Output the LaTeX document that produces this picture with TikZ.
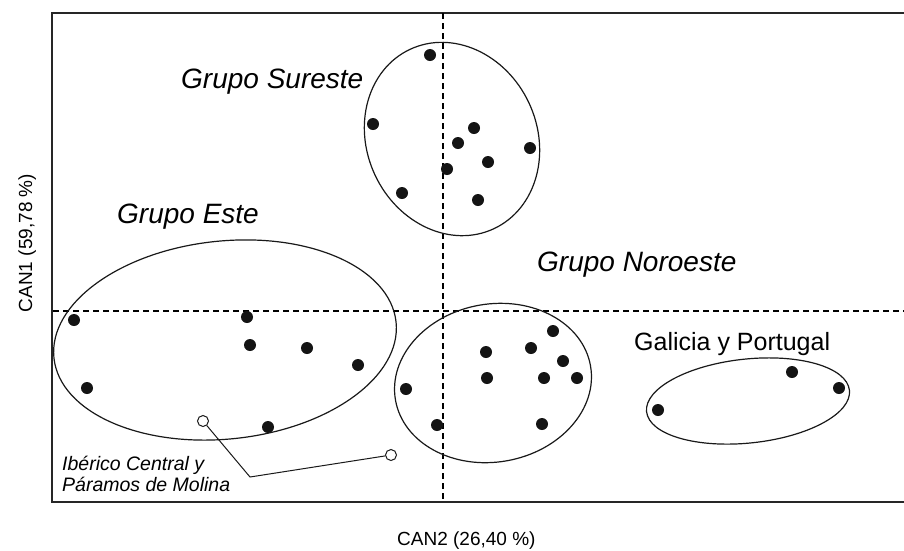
\documentclass[tikz,border=0pt]{standalone}
\usepackage{fontspec}
\setmainfont{Liberation Sans}
\begin{document}
\begin{tikzpicture}[x=1pt,y=-1pt,
  ink/.style={draw=black!90, line width=1.2pt},
  frameline/.style={draw=black!85, line width=1.6pt},
  axisdash/.style={draw=black, line width=1.2pt, dash pattern=on 6pt off 4pt},
  dot/.style={circle, fill=black!92, inner sep=0pt, minimum size=12pt},
  odot/.style={circle, draw=black!90, fill=white, line width=1pt, inner sep=0pt, minimum size=11pt},
  glabel/.style={font=\fontsize{28}{32}\selectfont\itshape, anchor=base west, inner sep=0pt},
  axlabel/.style={font=\fontsize{19}{22}\selectfont, inner sep=0pt}]
\useasboundingbox (0,0) rectangle (904,550);
\fill[white] (0,0) rectangle (904,550);
% frame
\coordinate (ftr) at (904,13);
\coordinate (ftl) at (52,13);
\coordinate (fbl) at (52,502);
\coordinate (fbr) at (904,502);
\draw[frameline] (ftr) -- (ftl) -- (fbl) -- (fbr);
% axes
\coordinate (vt) at (443,13);
\coordinate (vb) at (443,502);
\coordinate (hl) at (53,311);
\coordinate (hr) at (904,311);
\draw[axisdash] (vt) -- (vb);
\draw[axisdash] (hl) -- (hr);
% ellipses
\draw[ink, rotate around={25:(452,139)}] (452,139) ellipse (85 and 99);
\draw[ink, rotate around={6:(225,340)}] (225,340) ellipse (172 and 99);
\draw[ink, rotate around={10:(493,383)}] (493,383) ellipse (99 and 79);
\draw[ink, rotate around={6:(748,401)}] (748,401) ellipse (102 and 42);
% Sureste dots
\foreach \p/\q [count=\i] in {430/55, 373/124, 474/128, 458/143, 530/148, 488/162, 447/169, 402/193, 478/200}
  \node[dot] (s\i) at (\p,\q) {};
% Este dots
\foreach \p/\q [count=\i] in {74/320, 247/317, 250/345, 307/348, 358/365, 87/388, 268/427}
  \node[dot] (e\i) at (\p,\q) {};
% Noroeste dots
\foreach \p/\q [count=\i] in {486/352, 531/348, 553/331, 563/361, 487/378, 544/378, 577/378, 406/389, 437/425, 542/424}
  \node[dot] (n\i) at (\p,\q) {};
% Galicia dots
\foreach \p/\q [count=\i] in {658/410, 792/372, 839/388}
  \node[dot] (g\i) at (\p,\q) {};
% open circles and leader
\node[odot] (o1) at (203,421) {};
\node[odot] (o2) at (391,455) {};
\coordinate (bend) at (250,477);
\draw[ink, line width=1pt] (o1) -- (bend) -- (o2);
% labels
\node[glabel] (lsur) at (181,88) {Grupo Sureste};
\node[glabel] (leste) at (117,223) {Grupo Este};
\node[glabel] (lnor) at (537,271) {Grupo Noroeste};
\node[font=\fontsize{25}{29}\selectfont, anchor=base west, inner sep=0pt] (lgal) at (634,350) {Galicia y Portugal};
\node[font=\fontsize{19.5}{22}\selectfont\itshape, anchor=base west, inner sep=0pt] (libe1) at (62,470) {Ibérico Central y};
\node[font=\fontsize{19.5}{22}\selectfont\itshape, anchor=base west, inner sep=0pt] (libe2) at (62,491) {Páramos de Molina};
\node[axlabel, anchor=base west] (lcan2) at (397,545) {CAN2 (26,40 \%)};
\node[axlabel, rotate=90, anchor=base] (lcan1) at (32,243) {CAN1 (59,78 \%)};
\end{tikzpicture}
\end{document}
